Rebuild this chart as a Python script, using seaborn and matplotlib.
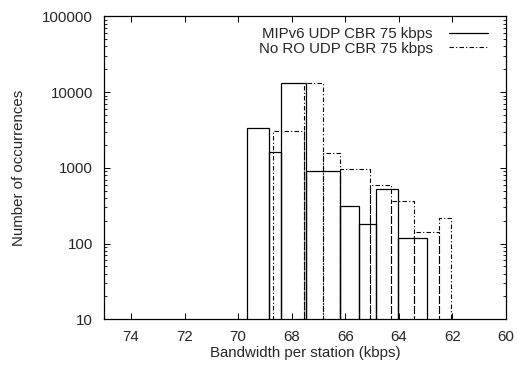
import matplotlib
matplotlib.use("Agg")
import matplotlib.pyplot as plt
import matplotlib.ticker as mticker
from matplotlib.lines import Line2D
import seaborn as sns
import numpy as np
import pandas as pd

# --- data ---
mipv6_edges = [62.96, 64.02, 64.85, 65.50, 66.20, 67.47, 68.40, 68.84, 69.66]
mipv6_counts = [117, 525, 180, 313, 916, 13050, 1600, 3320]

noro_edges = [62.06, 62.49, 63.42, 64.31, 65.08, 66.20, 66.82, 67.54, 68.69]
noro_counts = [215, 141, 365, 593, 964, 1553, 13050, 3090]

series_labels = ["MIPv6 UDP CBR 75 kbps", "No RO UDP CBR 75 kbps"]
x_ticks = [74, 72, 70, 68, 66, 64, 62, 60]
y_ticks = [10, 100, 1000, 10000, 100000]

sns.set_style("ticks")
plt.rcParams["font.family"] = ["Liberation Sans", "DejaVu Sans"]
plt.rcParams["font.size"] = 10.8

fig = plt.figure(figsize=(5.17, 3.69), dpi=100)
ax = fig.add_axes([0.2017, 0.1347, 0.777, 0.8211])

def centers(edges):
    e = np.array(edges)
    return (e[:-1] + e[1:]) / 2

df_a = pd.DataFrame({"bw": centers(mipv6_edges), "n": mipv6_counts})
df_b = pd.DataFrame({"bw": centers(noro_edges), "n": noro_counts})

dashdot = (0, (4, 2, 1, 2))

sns.histplot(data=df_a, x="bw", weights="n", bins=mipv6_edges, fill=False,
             element="bars", color="black", linewidth=0.9, ax=ax)
sns.histplot(data=df_b, x="bw", weights="n", bins=noro_edges, fill=False,
             element="bars", color="black", linewidth=0.8, linestyle=dashdot, ax=ax)

ax.set_yscale("log")
ax.set_ylim(10, 100000)
ax.set_xlim(75, 60)
ax.set_xticks(x_ticks)
ax.set_yticks(y_ticks)
ax.yaxis.set_major_formatter(mticker.FuncFormatter(lambda v, p: f"{v:g}" if v < 1e5 else "100000"))
ax.yaxis.set_minor_locator(mticker.LogLocator(base=10, subs=np.arange(2, 10)))
ax.yaxis.set_minor_formatter(mticker.NullFormatter())
ax.xaxis.set_minor_locator(mticker.NullLocator())

ax.tick_params(which="both", direction="in", top=True, right=True, color="black")
ax.tick_params(which="major", length=4.5, width=0.7, pad=8)
ax.tick_params(which="minor", length=2.5, width=0.6)
for s in ax.spines.values():
    s.set_visible(True)
    s.set_linewidth(0.9)
    s.set_color("black")

ax.set_xlabel("Bandwidth per station (kbps)", labelpad=1.5)
ax.set_ylabel("Number of occurrences", labelpad=12)

handles = [Line2D([], [], color="black", linewidth=0.9),
           Line2D([], [], color="black", linewidth=0.8, linestyle=dashdot)]
ax.legend(handles, series_labels, loc="upper right", frameon=False, markerfirst=False,
          handlelength=2.6, handletextpad=1.1, labelspacing=0.05,
          bbox_to_anchor=(0.982, 1.0), borderaxespad=0.3)

fig.savefig("out.png", dpi=100)
